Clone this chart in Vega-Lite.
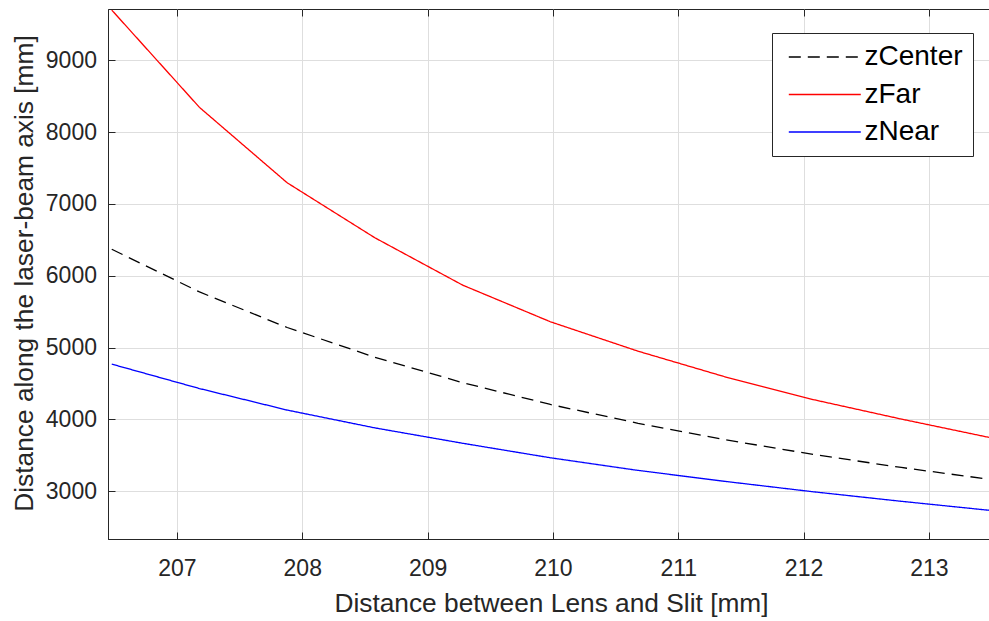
{
  "$schema": "https://vega.github.io/schema/vega-lite/v6.json",
  "autosize": "none",
  "width": 881,
  "height": 530,
  "padding": {"left": 108, "top": 9, "right": 0, "bottom": 82},
  "background": "white",
  "config": {
    "font": "Liberation Sans",
    "view": {"stroke": "#262626", "strokeWidth": 1},
    "axis": {
      "domainColor": "#262626",
      "tickColor": "#262626",
      "labelColor": "#262626",
      "titleColor": "#262626",
      "gridColor": "#dedede",
      "labelFont": "Liberation Sans",
      "titleFont": "Liberation Sans",
      "labelFontSize": 23,
      "titleFontSize": 26.3,
      "titleFontWeight": "normal",
      "tickSize": -7
    },
    "legend": {
      "labelFont": "Liberation Sans",
      "labelFontSize": 28,
      "labelColor": "#000000"
    }
  },
  "data": {
    "values": [
      {"x": 206.48, "series": "zCenter", "y": 6370},
      {"x": 207.18, "series": "zCenter", "y": 5775},
      {"x": 207.88, "series": "zCenter", "y": 5280},
      {"x": 208.58, "series": "zCenter", "y": 4865},
      {"x": 209.28, "series": "zCenter", "y": 4512},
      {"x": 209.98, "series": "zCenter", "y": 4208},
      {"x": 210.68, "series": "zCenter", "y": 3946},
      {"x": 211.38, "series": "zCenter", "y": 3716},
      {"x": 212.08, "series": "zCenter", "y": 3512},
      {"x": 212.78, "series": "zCenter", "y": 3331},
      {"x": 213.48, "series": "zCenter", "y": 3167},
      {"x": 206.48, "series": "zFar", "y": 9700},
      {"x": 207.18, "series": "zFar", "y": 8345},
      {"x": 207.88, "series": "zFar", "y": 7295},
      {"x": 208.58, "series": "zFar", "y": 6529},
      {"x": 209.28, "series": "zFar", "y": 5870},
      {"x": 209.98, "series": "zFar", "y": 5360},
      {"x": 210.68, "series": "zFar", "y": 4950},
      {"x": 211.38, "series": "zFar", "y": 4590},
      {"x": 212.08, "series": "zFar", "y": 4275},
      {"x": 212.78, "series": "zFar", "y": 4005},
      {"x": 213.48, "series": "zFar", "y": 3750},
      {"x": 206.48, "series": "zNear", "y": 4770},
      {"x": 207.18, "series": "zNear", "y": 4430},
      {"x": 207.88, "series": "zNear", "y": 4130},
      {"x": 208.58, "series": "zNear", "y": 3882},
      {"x": 209.28, "series": "zNear", "y": 3668},
      {"x": 209.98, "series": "zNear", "y": 3466},
      {"x": 210.68, "series": "zNear", "y": 3290},
      {"x": 211.38, "series": "zNear", "y": 3136},
      {"x": 212.08, "series": "zNear", "y": 2992},
      {"x": 212.78, "series": "zNear", "y": 2860},
      {"x": 213.48, "series": "zNear", "y": 2735}
    ]
  },
  "layer": [
    {
      "mark": {"type": "line", "strokeWidth": 1.3, "clip": true},
      "encoding": {
        "x": {
          "field": "x", "type": "quantitative",
          "scale": {"domain": [206.45, 213.48], "nice": false, "zero": false},
          "axis": {
            "title": "Distance between Lens and Slit [mm]",
            "values": [207, 208, 209, 210, 211, 212, 213],
            "labelBaseline": "alphabetic",
            "labelPadding": 43,
            "titleBaseline": "alphabetic",
            "titleY": 72.7,
            "titleX": 443,
            "grid": true
          }
        },
        "y": {
          "field": "y", "type": "quantitative",
          "scale": {"domain": [2335, 9715], "nice": false, "zero": false},
          "axis": {
            "title": "Distance along the laser-beam axis [mm]",
            "values": [3000, 4000, 5000, 6000, 7000, 8000, 9000],
            "format": "d",
            "labelPadding": 18.5,
            "titleAngle": 270,
            "titleBaseline": "alphabetic",
            "titleAlign": "center",
            "titleX": -76,
            "titleY": 264,
            "grid": true
          }
        },
        "color": {
          "field": "series", "type": "nominal",
          "scale": {"domain": ["zCenter", "zFar", "zNear"], "range": ["#000000", "#ff0000", "#0000ff"]},
          "legend": {
            "title": null,
            "orient": "none",
            "legendX": 664,
            "legendY": 24,
            "symbolType": "M-0.6,0L5.4,0",
            "symbolSize": 576,
            "symbolStrokeWidth": 1.3,
            "labelOffset": 54.5,
            "padding": 10,
            "rowPadding": 9.5,
            "fillColor": "white",
            "strokeColor": "#262626",
            "cornerRadius": 0
          }
        },
        "strokeDash": {
          "field": "series", "type": "nominal",
          "scale": {"domain": ["zCenter", "zFar", "zNear"], "range": [[12, 7], [1, 0], [1, 0]]},
          "legend": null
        }
      }
    },
    {
      "mark": {"type": "line", "opacity": 0},
      "encoding": {
        "x": {
          "field": "x", "type": "quantitative",
          "axis": {"orient": "top", "labels": false, "title": null, "grid": false, "domain": false, "values": [207, 208, 209, 210, 211, 212, 213]}
        },
        "y": {"field": "y", "type": "quantitative"},
        "detail": {"field": "series"}
      }
    }
  ],
  "resolve": {"axis": {"x": "independent"}}
}
